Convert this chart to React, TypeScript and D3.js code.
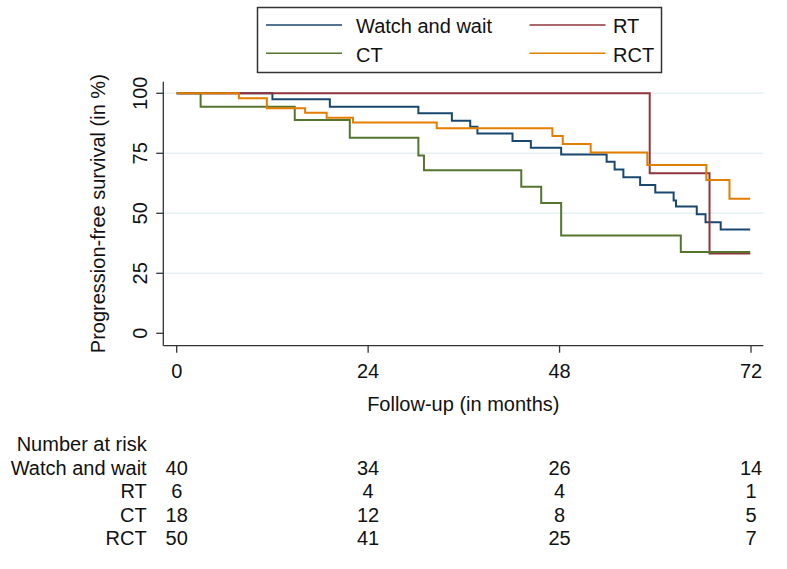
import { useEffect, useRef } from 'react';
import * as d3 from 'd3';

// Kaplan-Meier steps (months, PFS %)
const wwMonths = [0, 12.0, 19.2, 30.3, 34.5, 36.8, 37.7, 42.1, 44.4, 48.2, 53.9, 54.9, 56.0, 58.1, 60.0, 62.3, 62.6, 65.2, 66.3, 68.2, 71.9];
const wwSurv = [100, 97.5, 94.4, 91.7, 88.6, 86.1, 83.3, 80.1, 77.3, 74.5, 71.5, 68.3, 65.0, 61.8, 58.7, 55.3, 52.8, 49.6, 46.3, 43.3, 43.3];

const rtMonths = [0, 59.3, 66.8, 71.9];
const rtSurv = [100, 66.7, 33.3, 33.3];

const ctMonths = [0, 3.0, 14.8, 21.7, 30.3, 31.0, 43.2, 45.7, 48.2, 63.2, 71.9];
const ctSurv = [100, 94.4, 88.9, 81.5, 74.1, 67.9, 61.1, 54.3, 40.7, 33.9, 33.9];

const rctMonths = [0, 7.8, 11.3, 16.1, 18.8, 22.1, 32.6, 47.1, 48.4, 51.9, 59.0, 66.4, 69.3, 71.9];
const rctSurv = [100, 97.9, 93.8, 91.9, 89.8, 87.8, 85.4, 82.2, 78.9, 75.3, 70.1, 63.9, 56.1, 56.1];

const groupNames = ['Watch and wait', 'RT', 'CT', 'RCT'];
const groupColors = ['#1a476f', '#90353b', '#55752f', '#e37e00'];

const xTicks = [0, 24, 48, 72];
const yTicks = [0, 25, 50, 75, 100];
const gridTicks = [25, 50, 75, 100];

// number at risk at each x tick
const riskWW = [40, 34, 26, 14];
const riskRT = [6, 4, 4, 1];
const riskCT = [18, 12, 8, 5];
const riskRCT = [50, 41, 25, 7];

const FONT = '"Liberation Sans", Arial, Helvetica, sans-serif';

export default function App() {
  const svgRef = useRef<SVGSVGElement>(null);

  useEffect(() => {
    if (!svgRef.current) return;
    const svg = d3.select(svgRef.current);
    svg.selectAll('*').remove();

    const plotLeft = 163.3;
    const plotRight = 763.3;
    const plotTop = 81.7;
    const plotBottom = 345.7;

    const x = d3.scaleLinear().domain([0, 72]).range([176.7, 751]);
    const y = d3.scaleLinear().domain([0, 100]).range([333.3, 93.3]);

    svg.append('rect').attr('width', 787).attr('height', 569).attr('fill', '#ffffff');

    // grid lines
    svg
      .selectAll('.grid')
      .data(gridTicks)
      .enter()
      .append('line')
      .attr('x1', plotLeft)
      .attr('x2', plotRight)
      .attr('y1', (d) => y(d))
      .attr('y2', (d) => y(d))
      .attr('stroke', '#e6eff1')
      .attr('stroke-width', 1.4);

    // curves
    const series = [
      { m: wwMonths, s: wwSurv },
      { m: rtMonths, s: rtSurv },
      { m: ctMonths, s: ctSurv },
      { m: rctMonths, s: rctSurv },
    ];
    const line = d3
      .line<[number, number]>()
      .x((d) => x(d[0]))
      .y((d) => y(d[1]))
      .curve(d3.curveStepAfter);

    series.forEach((sr, i) => {
      const pts = sr.m.map((t, j) => [t, sr.s[j]] as [number, number]);
      svg
        .append('path')
        .datum(pts)
        .attr('fill', 'none')
        .attr('stroke', groupColors[i])
        .attr('stroke-width', 2)
        .attr('d', line);
    });

    const axisColor = '#333333';

    // y axis
    svg
      .append('line')
      .attr('x1', plotLeft)
      .attr('x2', plotLeft)
      .attr('y1', plotTop)
      .attr('y2', plotBottom)
      .attr('stroke', axisColor)
      .attr('stroke-width', 1.3);
    svg
      .selectAll('.ytick')
      .data(yTicks)
      .enter()
      .append('line')
      .attr('x1', plotLeft - 7)
      .attr('x2', plotLeft)
      .attr('y1', (d) => y(d))
      .attr('y2', (d) => y(d))
      .attr('stroke', axisColor)
      .attr('stroke-width', 1.3);
    svg
      .selectAll('.ylab')
      .data(yTicks)
      .enter()
      .append('text')
      .attr('transform', (d) => `translate(146.7,${y(d)}) rotate(-90)`)
      .attr('text-anchor', 'middle')
      .style('font-family', FONT)
      .style('font-size', '20px')
      .attr('fill', '#111')
      .text((d) => d);
    svg
      .append('text')
      .attr('transform', `translate(105,${(plotTop + plotBottom) / 2}) rotate(-90)`)
      .attr('text-anchor', 'middle')
      .style('font-family', FONT)
      .style('font-size', '20px')
      .attr('fill', '#111')
      .text('Progression-free survival (in %)');

    // x axis
    svg
      .append('line')
      .attr('x1', plotLeft)
      .attr('x2', plotRight)
      .attr('y1', plotBottom)
      .attr('y2', plotBottom)
      .attr('stroke', axisColor)
      .attr('stroke-width', 1.3);
    svg
      .selectAll('.xtick')
      .data(xTicks)
      .enter()
      .append('line')
      .attr('x1', (d) => x(d))
      .attr('x2', (d) => x(d))
      .attr('y1', plotBottom)
      .attr('y2', plotBottom + 7)
      .attr('stroke', axisColor)
      .attr('stroke-width', 1.3);
    svg
      .selectAll('.xlab')
      .data(xTicks)
      .enter()
      .append('text')
      .attr('x', (d) => x(d))
      .attr('y', 378)
      .attr('text-anchor', 'middle')
      .style('font-family', FONT)
      .style('font-size', '20px')
      .attr('fill', '#111')
      .text((d) => d);
    svg
      .append('text')
      .attr('x', (plotLeft + plotRight) / 2)
      .attr('y', 411)
      .attr('text-anchor', 'middle')
      .style('font-family', FONT)
      .style('font-size', '20px')
      .attr('fill', '#111')
      .text('Follow-up (in months)');

    // legend
    const lg = svg.append('g');
    lg.append('rect')
      .attr('x', 257.5)
      .attr('y', 7.5)
      .attr('width', 404)
      .attr('height', 65)
      .attr('fill', '#ffffff')
      .attr('stroke', '#333333')
      .attr('stroke-width', 1.5);
    const legendPos = [
      { lx: 266, ly: 25, tx: 356 },
      { lx: 529.5, ly: 25, tx: 613 },
      { lx: 266, ly: 53.3, tx: 356 },
      { lx: 529.5, ly: 53.3, tx: 613 },
    ];
    groupNames.forEach((name, i) => {
      const p = legendPos[i];
      lg.append('line')
        .attr('x1', p.lx)
        .attr('x2', p.lx + 76)
        .attr('y1', p.ly)
        .attr('y2', p.ly)
        .attr('stroke', groupColors[i])
        .attr('stroke-width', 1.6);
      lg.append('text')
        .attr('x', p.tx)
        .attr('y', p.ly + 8.3)
        .style('font-family', FONT)
        .style('font-size', '20px')
        .attr('fill', '#111')
        .text(name);
    });

    // number at risk table
    const risk = [riskWW, riskRT, riskCT, riskRCT];
    const rowBase = [475, 498, 521.5, 544.5];
    svg
      .append('text')
      .attr('x', 146.7)
      .attr('y', 451)
      .attr('text-anchor', 'end')
      .style('font-family', FONT)
      .style('font-size', '20px')
      .attr('fill', '#111')
      .text('Number at risk');
    groupNames.forEach((name, i) => {
      svg
        .append('text')
        .attr('x', 146.7)
        .attr('y', rowBase[i])
        .attr('text-anchor', 'end')
        .style('font-family', FONT)
        .style('font-size', '20px')
        .attr('fill', '#111')
        .text(name);
      svg
        .selectAll(`.risk${i}`)
        .data(risk[i])
        .enter()
        .append('text')
        .attr('x', (_d, j) => x(xTicks[j]))
        .attr('y', rowBase[i])
        .attr('text-anchor', 'middle')
        .style('font-family', FONT)
        .style('font-size', '20px')
        .attr('fill', '#111')
        .text((d) => d);
    });
  }, []);

  return (
    <div style={{ position: 'absolute', left: 0, top: 0 }}>
      <svg ref={svgRef} width={787} height={569} style={{ display: 'block' }} />
    </div>
  );
}
